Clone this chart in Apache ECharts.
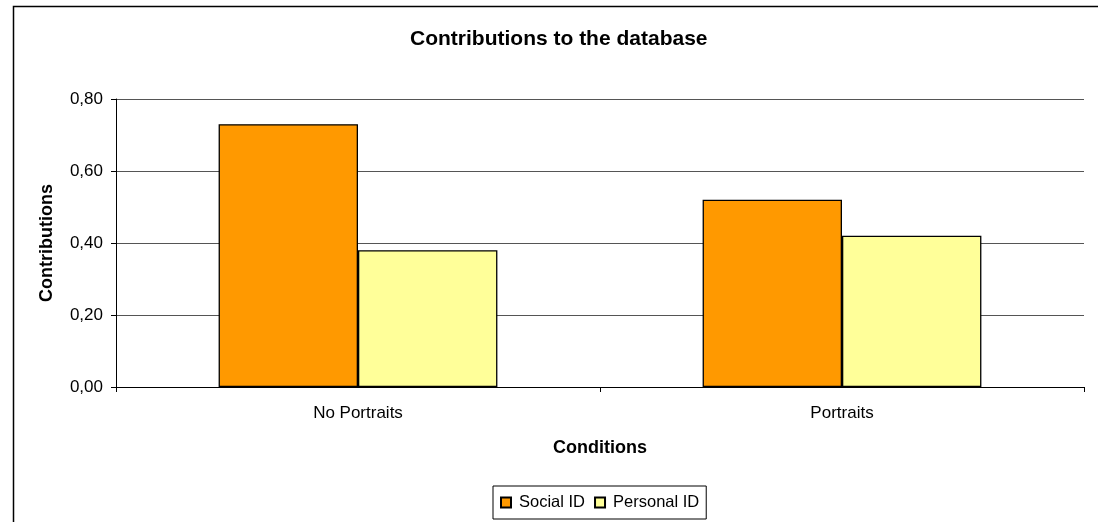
<!DOCTYPE html>
<html>
<head>
<meta charset="utf-8">
<script src="https://cdn.jsdelivr.net/npm/echarts@6/dist/echarts.min.js"></script>
<style>
html,body{margin:0;padding:0;background:#fff;}
#c{width:1098px;height:522px;}
</style>
</head>
<body>
<div id="c"></div>
<script>
const categories = ['No Portraits', 'Portraits'];
const seriesNames = ['Social ID', 'Personal ID'];
const socialID = [0.73, 0.52];
const personalID = [0.38, 0.42];
const yTicks = { min: 0, max: 0.8, interval: 0.2 };

const FONT = '"Liberation Sans", Arial, sans-serif';
const chart = echarts.init(document.getElementById('c'), null, { renderer: 'canvas' });
chart.setOption({
  backgroundColor: '#ffffff',
  animation: false,
  title: {
    text: 'Contributions to the database',
    left: 405, top: 24,
    textStyle: { fontFamily: FONT, fontSize: 21, fontWeight: 'bold', color: '#000' }
  },
  graphic: [{
    type: 'rect', silent: true,
    shape: { x: 13.5, y: 6.5, width: 1200, height: 700 },
    style: { fill: 'none', stroke: '#000', lineWidth: 1.5 }
  }],
  legend: {
    data: seriesNames,
    left: 493, top: 486,
    orient: 'horizontal',
    padding: [8, 7, 8, 7],
    itemGap: 9,
    itemWidth: 10, itemHeight: 10,
    icon: 'rect',
    borderColor: '#000', borderWidth: 1,
    textStyle: { fontFamily: FONT, fontSize: 16.5, color: '#000', padding: [0, 0, 0, 3] }
  },
  grid: { left: 116, right: 14, top: 99, bottom: 135, containLabel: false },
  xAxis: {
    type: 'category',
    data: categories,
    name: 'Conditions',
    nameLocation: 'middle',
    nameGap: 52,
    nameTextStyle: { fontFamily: FONT, fontSize: 18, fontWeight: 'bold', color: '#000' },
    axisLine: { lineStyle: { color: '#000', width: 1 } },
    axisTick: { show: true, length: 5, lineStyle: { color: '#000' } },
    axisLabel: { margin: 18, fontFamily: FONT, fontSize: 17, color: '#000' },
    splitLine: { show: false }
  },
  yAxis: {
    type: 'value',
    min: yTicks.min, max: yTicks.max, interval: yTicks.interval,
    name: 'Contributions',
    nameLocation: 'middle',
    nameRotate: 90,
    nameGap: 60,
    nameTextStyle: { fontFamily: FONT, fontSize: 18, fontWeight: 'bold', color: '#000' },
    axisLine: { show: true, lineStyle: { color: '#000', width: 1 } },
    axisTick: { show: true, length: 5, lineStyle: { color: '#000' } },
    axisLabel: {
      margin: 13, fontFamily: FONT, fontSize: 17, color: '#000',
      formatter: v => v.toFixed(2).replace('.', ',')
    },
    splitLine: { show: true, lineStyle: { color: '#555', width: 1 } }
  },
  series: [
    {
      name: seriesNames[0], type: 'bar', data: socialID,
      barGap: '0%', barCategoryGap: '42.4%',
      itemStyle: { color: '#FF9900', borderColor: '#000', borderWidth: 1.3 }
    },
    {
      name: seriesNames[1], type: 'bar', data: personalID,
      barGap: '0%', barCategoryGap: '42.4%',
      itemStyle: { color: '#FFFF99', borderColor: '#000', borderWidth: 1.3 }
    }
  ]
});
</script>
</body>
</html>
